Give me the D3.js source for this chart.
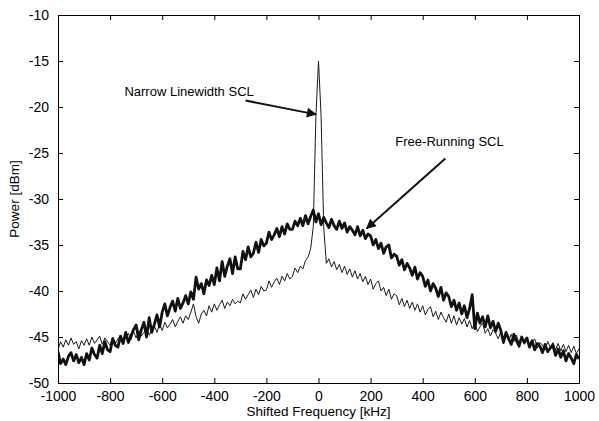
<!DOCTYPE html>
<html>
<head>
<meta charset="utf-8">
<script src="https://cdn.jsdelivr.net/npm/d3@7"></script>
<style>
  body { margin: 0; background: #fff; }
  text { font-family: "Liberation Sans", Arial, sans-serif; fill: #000; }
</style>
</head>
<body>
<div id="chart"></div>
<script>
// Frequency bins of the spectrum analyser trace (kHz)
var freqs = d3.range(-1000, 1001, 10);

// Free-Running SCL trace (dBm), one value per 10 kHz bin
var freeRunning = [
  -46.6, -47.9, -47.4, -48.0, -47.1, -46.7, -47.6, -46.9, -47.8, -47.2,
  -48.0, -46.8, -47.5, -46.2, -46.9, -47.3, -45.9, -46.8, -45.5, -46.4,
  -46.6, -45.2, -45.9, -46.1, -44.9, -45.7, -44.5, -45.6, -44.9, -44.2,
  -43.7, -45.3, -44.2, -43.4, -45.0, -42.9, -44.5, -43.6, -42.6, -43.9,
  -42.3, -41.4, -42.7, -41.8, -41.1, -42.2, -40.8, -41.9, -41.3, -40.5,
  -41.4, -40.1, -40.9, -38.5, -39.8, -39.2, -40.3, -38.8, -39.4, -38.3,
  -39.3, -37.5, -38.9, -36.8, -38.4, -37.3, -36.5, -38.1, -36.3, -37.6,
  -37.6, -35.7, -36.6, -35.2, -36.3, -35.9, -34.7, -35.8, -34.4, -35.1,
  -34.8, -33.6, -34.4, -33.9, -33.2, -34.1, -33.0, -33.8, -32.7, -33.3,
  -33.3, -32.4, -32.9, -32.1, -32.9, -31.8, -32.7, -31.9, -31.2, -32.5,
  -31.6, -32.8, -32.0, -32.6, -33.1, -32.2, -32.9, -33.3, -32.4, -33.2,
  -32.6, -33.6, -33.0, -33.4, -33.9, -33.0, -34.0, -33.4, -34.3, -33.8,
  -34.0, -35.0, -34.4, -35.4, -34.8, -35.9, -35.2, -35.0, -36.4, -36.0,
  -36.2, -37.2, -36.6, -37.7, -37.0, -37.5, -38.3, -37.4, -38.7, -38.0,
  -38.4, -39.5, -38.8, -40.0, -39.2, -39.7, -40.6, -39.6, -41.0, -40.2,
  -40.6, -41.7, -41.0, -42.1, -41.3, -42.5, -41.6, -42.9, -41.9, -40.4,
  -44.1, -42.4, -43.5, -42.8, -43.9, -42.7, -44.0, -43.3, -44.4, -43.5,
  -44.3, -45.6, -44.5, -45.2, -45.8, -44.7, -45.4, -46.0, -45.0, -45.6,
  -45.1, -46.1, -45.4, -46.4, -45.7, -46.0, -46.7, -45.8, -46.6, -46.2,
  -45.9, -47.0, -46.3, -47.2, -46.5, -47.6, -46.8, -47.3, -47.9, -46.9,
  -47.4
];

// Narrow Linewidth SCL trace (dBm)
var narrowLinewidth = [
  -46.4, -45.5, -46.1, -45.3, -45.9, -45.1, -45.8, -45.5, -46.3, -45.4,
  -45.9, -45.2, -45.9, -45.0, -45.7, -45.3, -44.9, -45.8, -45.1, -45.5,
  -45.9, -45.0, -45.7, -45.2, -44.8, -45.5, -45.0, -44.6, -45.3, -44.4,
  -45.1, -44.3, -44.9, -44.5, -44.0, -44.8, -44.2, -43.8, -44.5, -43.6,
  -44.3, -43.4, -44.0, -43.6, -43.1, -43.9, -43.3, -42.8, -43.5, -42.7,
  -43.1, -42.3, -41.4, -42.8, -43.5, -42.5, -42.1, -42.7, -41.6, -42.3,
  -41.4, -42.1, -41.5, -41.0, -41.9, -41.2, -41.6, -40.9, -41.4, -41.1,
  -41.3, -40.3, -40.9, -40.4, -39.9, -40.7, -39.8, -40.4, -39.5, -40.0,
  -39.9, -38.9, -39.6, -39.0, -38.6, -39.3, -38.4, -38.9, -38.1, -38.7,
  -38.4, -37.5, -38.0, -37.3, -37.6, -36.7, -36.3, -35.4, -33.0, -21.0,
  -15.0, -21.0, -33.0, -37.0, -36.5, -37.4, -36.8, -37.7, -37.1, -38.0,
  -37.3, -38.2, -37.6, -38.5, -37.8, -38.7, -38.1, -39.0, -38.4, -39.3,
  -38.7, -39.8, -39.2, -38.9, -40.0, -39.6, -40.5, -39.8, -40.9, -40.3,
  -40.5, -41.5, -40.8, -41.7, -41.0, -41.9, -41.2, -42.1, -41.4, -42.3,
  -41.6, -42.6, -42.0, -41.7, -42.8, -42.2, -43.1, -42.3, -42.9, -43.4,
  -42.5, -43.5, -42.7, -43.7, -42.9, -43.6, -43.0, -43.9, -43.2, -44.1,
  -43.4, -44.4, -43.9, -43.5, -44.6, -44.1, -44.9, -44.2, -44.6, -45.2,
  -44.4, -45.2, -44.5, -45.4, -44.7, -45.5, -44.8, -45.7, -45.0, -45.8,
  -45.1, -46.0, -45.5, -45.2, -46.2, -45.6, -45.9, -46.4, -45.5, -46.1,
  -45.6, -46.4, -45.7, -46.5, -45.8, -46.6, -45.9, -46.7, -46.0, -46.8,
  -46.3
];

// Axis ticks
var xTicks = [-1000, -800, -600, -400, -200, 0, 200, 400, 600, 800, 1000];
var yTicks = [-50, -45, -40, -35, -30, -25, -20, -15, -10];

// Annotations: label, text anchor point and arrow (data units)
var notes = [
  { label: "Narrow Linewidth SCL", tx: -745, ty: -18.8, from: [-280, -19.3], to: [-10, -20.8] },
  { label: "Free-Running SCL", tx: 295, ty: -24.2, from: [487, -25.6], to: [185, -33.2] }
];

function drawChart() {
    var w = 599;
    var h = 421;
    var margin = { top: 15, right: 20, bottom: 38, left: 58 };

    var svg = d3.select("#chart")
                .append("svg")
                .attr("width", w)
                .attr("height", h);

    var x = d3.scaleLinear().domain([-1000, 1000]).range([margin.left, w - margin.right]);
    var y = d3.scaleLinear().domain([-50, -10]).range([h - margin.bottom, margin.top]);

    var defs = svg.append("defs");
    defs.append("clipPath")
        .attr("id", "plotclip")
        .append("rect")
        .attr("x", margin.left)
        .attr("y", margin.top)
        .attr("width", w - margin.left - margin.right)
        .attr("height", h - margin.top - margin.bottom);

    // arrow head marker
    defs.append("marker")
        .attr("id", "head")
        .attr("viewBox", "0 0 10 10")
        .attr("refX", 9)
        .attr("refY", 5)
        .attr("markerWidth", 6)
        .attr("markerHeight", 5)
        .attr("markerUnits", "strokeWidth")
        .attr("orient", "auto")
        .append("path")
        .attr("d", "M0,0 L10,5 L0,10 z")
        .attr("fill", "#111");

    var line = d3.line()
        .x(function(d) { return x(d[0]); })
        .y(function(d) { return y(d[1]); });

    var traces = svg.append("g").attr("clip-path", "url(#plotclip)");

    traces.append("path")
        .datum(d3.zip(freqs, narrowLinewidth))
        .attr("d", line)
        .attr("fill", "none")
        .attr("stroke", "#1a1a1a")
        .attr("stroke-width", 1)
        .attr("stroke-linejoin", "round");

    traces.append("path")
        .datum(d3.zip(freqs, freeRunning))
        .attr("d", line)
        .attr("fill", "none")
        .attr("stroke", "#111")
        .attr("stroke-width", 2.8)
        .attr("stroke-linejoin", "round");

    // axes, MATLAB style box with inward ticks on every side
    var font = "14px";
    var plain = function(d) { return String(d); };
    svg.append("g")
        .attr("transform", "translate(0," + (h - margin.bottom) + ")")
        .call(d3.axisBottom(x).tickValues(xTicks).tickFormat(plain).tickSizeInner(-5).tickSizeOuter(0).tickPadding(8))
        .call(function(g) { g.selectAll("text").style("font-size", font); });
    svg.append("g")
        .attr("transform", "translate(0," + margin.top + ")")
        .call(d3.axisTop(x).tickValues(xTicks).tickSizeInner(-5).tickSizeOuter(0).tickFormat(""));
    svg.append("g")
        .attr("transform", "translate(" + margin.left + ",0)")
        .call(d3.axisLeft(y).tickValues(yTicks).tickFormat(plain).tickSizeInner(-5).tickSizeOuter(0).tickPadding(9))
        .call(function(g) { g.selectAll("text").style("font-size", font); });
    svg.append("g")
        .attr("transform", "translate(" + (w - margin.right) + ",0)")
        .call(d3.axisRight(y).tickValues(yTicks).tickSizeInner(-5).tickSizeOuter(0).tickFormat(""));

    svg.selectAll(".domain, .tick line").attr("stroke", "#000").attr("stroke-width", 1);

    // axis titles
    svg.append("text")
        .attr("x", x(0))
        .attr("y", 416)
        .attr("text-anchor", "middle")
        .style("font-size", "13.5px")
        .text("Shifted Frequency [kHz]");

    svg.append("text")
        .attr("transform", "translate(19," + y(-30) + ") rotate(-90)")
        .attr("text-anchor", "middle")
        .style("font-size", "13.5px")
        .text("Power [dBm]");

    // annotations with arrows
    notes.forEach(function(n) {
        svg.append("text")
            .attr("x", x(n.tx))
            .attr("y", y(n.ty))
            .style("font-size", "13px")
            .text(n.label);
        svg.append("line")
            .attr("x1", x(n.from[0]))
            .attr("y1", y(n.from[1]))
            .attr("x2", x(n.to[0]))
            .attr("y2", y(n.to[1]))
            .attr("stroke", "#111")
            .attr("stroke-width", 2)
            .attr("marker-end", "url(#head)");
    });
}

window.onload = drawChart;
</script>
</body>
</html>
